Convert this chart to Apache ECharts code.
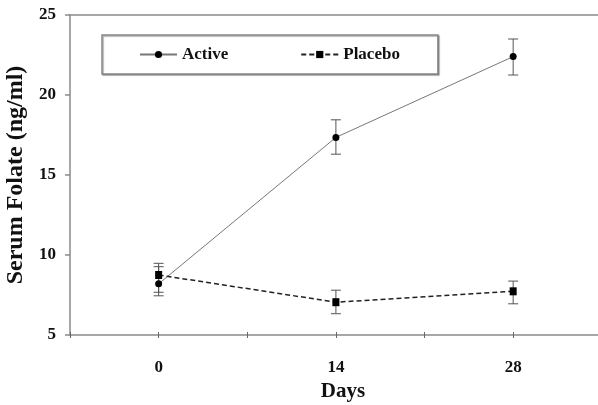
<!DOCTYPE html>
<html>
<head>
<meta charset="utf-8">
<script src="https://cdn.jsdelivr.net/npm/echarts@6/dist/echarts.min.js"></script>
<style>
html,body{margin:0;padding:0;background:#fff;}
#chart{width:598px;height:405px;}
</style>
</head>
<body>
<div id="chart"></div>
<script>
var days = [0, 14, 28];
var activeMean = [8.2, 17.35, 22.4];
var activeLow = [7.45, 16.3, 21.25];
var activeHigh = [9.27, 18.45, 23.5];
var placeboMean = [8.75, 7.05, 7.73];
var placeboLow = [7.67, 6.33, 6.95];
var placeboHigh = [9.48, 7.8, 8.37];
var xTickLabels = ['0', '14', '28'];
var yTicks = [5, 10, 15, 20, 25];

var FONT = '"Liberation Serif", "Times New Roman", serif';

function pairs(xs, ys) { return xs.map(function (x, i) { return [x, ys[i]]; }); }
function errData(xs, lo, hi) { return xs.map(function (x, i) { return [x, lo[i], hi[i]]; }); }

function errRender(params, api) {
  var x = api.value(0), lo = api.value(1), hi = api.value(2);
  var pLo = api.coord([x, lo]), pHi = api.coord([x, hi]);
  var hw = 5;
  var st = { stroke: '#555', lineWidth: 1 };
  return {
    type: 'group',
    children: [
      { type: 'line', shape: { x1: pLo[0], y1: pLo[1], x2: pHi[0], y2: pHi[1] }, style: st },
      { type: 'line', shape: { x1: pLo[0] - hw, y1: pLo[1], x2: pLo[0] + hw, y2: pLo[1] }, style: st },
      { type: 'line', shape: { x1: pHi[0] - hw, y1: pHi[1], x2: pHi[0] + hw, y2: pHi[1] }, style: st }
    ]
  };
}

var chart = echarts.init(document.getElementById('chart'), null, { renderer: 'canvas' });
var axisColor = '#8a8a8a';
chart.setOption({
  animation: false,
  backgroundColor: '#fff',
  grid: { left: 70, right: 0, top: 15, bottom: 70, containLabel: false, outerBoundsMode: 'none' },
  legend: {
    data: ['Active', 'Placebo'],
    left: 102, top: 35,
    orient: 'horizontal',
    padding: [11, 38, 11, 37],
    itemWidth: 37, itemHeight: 9,
    itemGap: 72,
    borderColor: '#888', borderWidth: 1.5,
    shadowColor: 'rgba(0,0,0,0.35)', shadowOffsetX: 1, shadowOffsetY: 1, shadowBlur: 1,
    backgroundColor: '#fff',
    textStyle: { fontFamily: FONT, fontWeight: 'bold', fontSize: 17, color: '#111' }
  },
  xAxis: [{
    type: 'value', min: -7, max: 34.7, interval: 7,
    name: 'Days', nameLocation: 'middle', nameGap: 42,
    nameTextStyle: { fontFamily: FONT, fontWeight: 'bold', fontSize: 21, color: '#111', padding: [0, 0, 0, 18] },
    axisLine: { show: true, onZero: false, lineStyle: { color: axisColor, width: 1.5 } },
    axisTick: { show: true, inside: false, length: 3, lineStyle: { color: '#666', width: 1 } },
    splitLine: { show: false },
    axisLabel: {
      margin: 24, fontFamily: FONT, fontWeight: 'bold', fontSize: 17, color: '#111',
      formatter: function (v) { var i = days.indexOf(v); return i >= 0 ? xTickLabels[i] : ''; }
    }
  }, {
    type: 'value', min: -7, max: 34.7, interval: 7, position: 'bottom',
    axisLine: { show: false, onZero: false },
    axisTick: { show: true, inside: true, length: 3, lineStyle: { color: '#666', width: 1 } },
    axisLabel: { show: false }, splitLine: { show: false }
  }, {
    type: 'value', min: -7, max: 34.7, interval: 7, position: 'top',
    axisLine: { show: true, onZero: false, lineStyle: { color: axisColor, width: 1.5 } },
    axisTick: { show: false }, axisLabel: { show: false }, splitLine: { show: false }
  }],
  yAxis: {
    type: 'value', min: yTicks[0], max: yTicks[yTicks.length - 1], interval: 5,
    name: 'Serum Folate (ng/ml)', nameLocation: 'middle', nameGap: 37,
    nameTextStyle: { fontFamily: FONT, fontWeight: 'bold', fontSize: 24, color: '#111' },
    axisLine: { show: true, onZero: false, lineStyle: { color: axisColor, width: 1.5 } },
    axisTick: { show: true, inside: false, length: 5, lineStyle: { color: axisColor, width: 1.5 } },
    splitLine: { show: false },
    axisLabel: { margin: 14, fontFamily: FONT, fontWeight: 'bold', fontSize: 17, color: '#111' }
  },
  series: [
    {
      name: 'Active', type: 'line', xAxisIndex: 0, data: pairs(days, activeMean),
      symbol: 'circle', symbolSize: 7,
      lineStyle: { color: '#777', width: 1, type: 'solid' },
      itemStyle: { color: '#000' }, z: 3
    },
    {
      name: 'Placebo', type: 'line', xAxisIndex: 0, data: pairs(days, placeboMean),
      symbol: 'rect', symbolSize: [7, 8],
      lineStyle: { color: '#222', width: 1.5, type: [5, 3] },
      itemStyle: { color: '#000' }, z: 3
    },
    {
      type: 'custom', xAxisIndex: 0, renderItem: errRender,
      data: errData(days, activeLow, activeHigh), z: 2, silent: true
    },
    {
      type: 'custom', xAxisIndex: 0, renderItem: errRender,
      data: errData(days, placeboLow, placeboHigh), z: 2, silent: true
    }
  ]
});
</script>
</body>
</html>
